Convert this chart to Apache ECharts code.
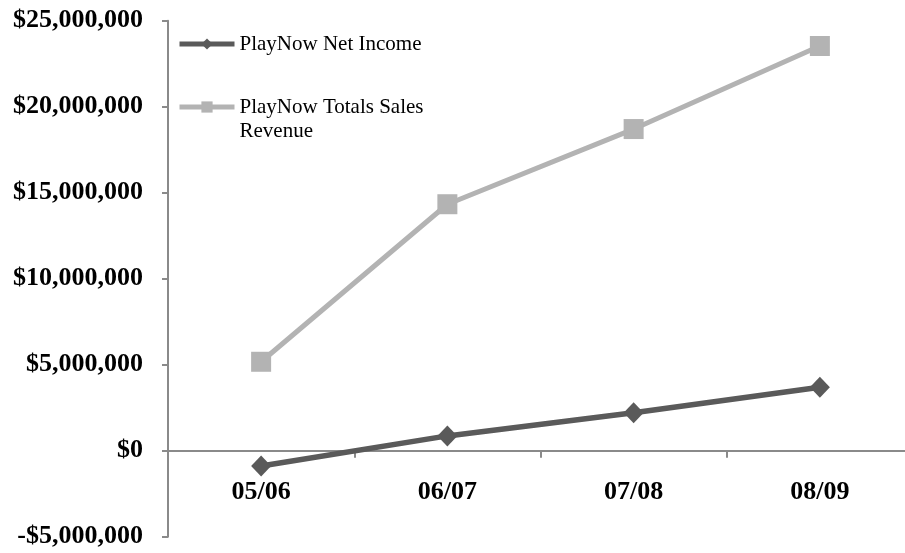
<!DOCTYPE html>
<html>
<head>
<meta charset="utf-8">
<script src="https://cdn.jsdelivr.net/npm/echarts@6/dist/echarts.min.js"></script>
<style>
  html, body { margin: 0; padding: 0; background: #ffffff; }
  #chart { width: 905px; height: 553px; }
</style>
</head>
<body>
<div id="chart"></div>
<script>
// Fiscal years
const categories = ['05/06', '06/07', '07/08', '08/09'];

// PlayNow figures in dollars
const netIncome = [-890000, 860000, 2210000, 3690000];
const totalSalesRevenue = [5170000, 14330000, 18700000, 23530000];

// Value axis ticks
const yTicks = [-5000000, 0, 5000000, 10000000, 15000000, 20000000, 25000000];

const seriesNames = ['PlayNow Net Income', 'PlayNow Totals Sales Revenue'];

const SERIF = "'Liberation Serif', 'Times New Roman', Times, serif";
const AXIS_GREY = '#8a8a8a';
const DARK = '#5a5a5a';
const LIGHT = '#b3b3b3';

function money(v) {
  const s = Math.abs(v).toString().replace(/\B(?=(\d{3})+(?!\d))/g, ',');
  return (v < 0 ? '-$' : '$') + s;
}

const chart = echarts.init(document.getElementById('chart'), null, { renderer: 'canvas' });

const legendCommon = {
  orient: 'vertical',
  left: 177,
  padding: 0,
  itemWidth: 55,
  itemHeight: 14,
  itemGap: 5,
  lineStyle: { width: 5 },
  textStyle: { fontFamily: SERIF, fontSize: 21, lineHeight: 24, color: '#000000' }
};

chart.setOption({
  animation: false,
  backgroundColor: '#ffffff',
  grid: { left: 168, right: -8, top: 20.7, bottom: 16.3, containLabel: false, outerBoundsMode: 'none' },
  legend: [
    Object.assign({}, legendCommon, {
      data: [seriesNames[0]],
      top: 32
    }),
    Object.assign({}, legendCommon, {
      data: [seriesNames[1]],
      top: 71,
      // blank first line keeps the first text line level with the icon
      formatter: function (name) {
        return ' \n' + name.replace(' Revenue', '\nRevenue');
      }
    })
  ],
  xAxis: {
    type: 'category',
    data: categories,
    boundaryGap: true,
    axisLine: { onZero: true, lineStyle: { color: AXIS_GREY, width: 2 } },
    axisTick: { show: true, length: 7, lineStyle: { color: AXIS_GREY, width: 2 } },
    axisLabel: {
      // labels sit just under the zero line, above the grid's bottom edge
      margin: -57,
      color: '#000000',
      fontFamily: SERIF,
      fontWeight: 'bold',
      fontSize: 26
    },
    splitLine: { show: false }
  },
  yAxis: {
    type: 'value',
    min: yTicks[0],
    max: yTicks[yTicks.length - 1],
    interval: yTicks[1] - yTicks[0],
    axisLine: { show: true, lineStyle: { color: AXIS_GREY, width: 2 } },
    axisTick: { show: true, length: 6, lineStyle: { color: AXIS_GREY, width: 2 } },
    axisLabel: {
      margin: 25,
      color: '#000000',
      fontFamily: SERIF,
      fontWeight: 'bold',
      fontSize: 26,
      formatter: money
    },
    splitLine: { show: false }
  },
  series: [
    {
      name: seriesNames[0],
      type: 'line',
      data: netIncome,
      symbol: 'diamond',
      symbolSize: [20, 21],
      showAllSymbol: true,
      lineStyle: { color: DARK, width: 5.5 },
      itemStyle: { color: DARK },
      z: 3
    },
    {
      name: seriesNames[1],
      type: 'line',
      data: totalSalesRevenue,
      symbol: 'rect',
      symbolSize: 20,
      showAllSymbol: true,
      lineStyle: { color: LIGHT, width: 5 },
      itemStyle: { color: LIGHT },
      z: 2
    }
  ]
});
</script>
</body>
</html>
